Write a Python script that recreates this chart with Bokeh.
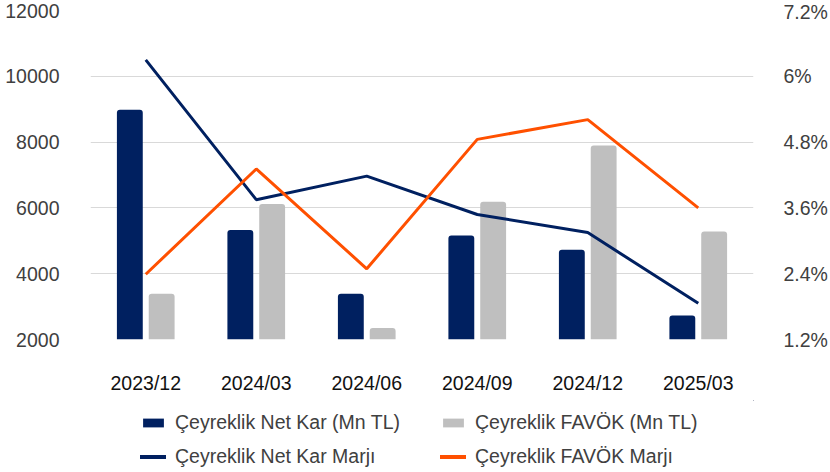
from bokeh.plotting import figure
from bokeh.models import (Range1d, LinearAxis, FixedTicker, Legend, LegendItem,
                          FactorRange, ColumnDataSource, CustomJSTickFormatter)
from bokeh.transform import dodge
from bokeh.layouts import column
from bokeh.embed import file_html
from bokeh.resources import INLINE

quarters = ["2023/12", "2024/03", "2024/06", "2024/09", "2024/12", "2025/03"]
net_kar = [8980, 5330, 3390, 5160, 4730, 2730]
favok = [3390, 6120, 2350, 6190, 7900, 5280]
net_marj = [6.30, 3.75, 4.18, 3.48, 3.15, 1.86]
favok_marj = [2.39, 4.31, 2.49, 4.85, 5.21, 3.60]
left_ticks = [2000, 4000, 6000, 8000, 10000, 12000]
right_ticks = [1.2, 2.4, 3.6, 4.8, 6.0, 7.2]
series_names = ["Çeyreklik Net Kar (Mn TL)", "Çeyreklik FAVÖK (Mn TL)",
                "Çeyreklik Net Kar Marjı", "Çeyreklik FAVÖK Marjı"]

NAVY = "#002060"
GRAY = "#BFBFBF"
ORANGE = "#FF5000"
FONT = "Liberation Sans"
FS = "19.5px"

src = ColumnDataSource(dict(q=quarters, net=net_kar, fav=favok,
                            nm=net_marj, fm=favok_marj))

xr = FactorRange(factors=quarters, range_padding=0)
p = figure(x_range=xr, y_range=Range1d(2000, 12000),
           width=830, height=400, output_backend="svg", toolbar_location=None,
           min_border_left=90, min_border_right=74, min_border_top=10,
           min_border_bottom=61)
p.outline_line_color = None
p.xgrid.grid_line_color = None
p.ygrid.grid_line_color = "#D9D9D9"
p.ygrid.grid_line_width = 1

p.extra_y_ranges = {"pct": Range1d(1.2, 7.2)}

r1 = p.vbar(x=dodge("q", -0.144, range=xr), top="net", bottom=2000,
            width=0.234, source=src, fill_color=NAVY, line_color=None,
            border_radius=(3, 3, 0, 0))
r2 = p.vbar(x=dodge("q", 0.144, range=xr), top="fav", bottom=2000,
            width=0.234, source=src, fill_color=GRAY, line_color=None,
            border_radius=(3, 3, 0, 0))
l1 = p.line(x="q", y="nm", source=src, y_range_name="pct", line_color=NAVY,
            line_width=3)
l2 = p.line(x="q", y="fm", source=src, y_range_name="pct", line_color=ORANGE,
            line_width=3)


def style_axis(ax, standoff, color):
    ax.axis_line_color = None
    ax.major_tick_line_color = None
    ax.minor_tick_line_color = None
    ax.major_tick_out = 0
    ax.major_tick_in = 0
    ax.minor_tick_out = 0
    ax.minor_tick_in = 0
    ax.major_label_standoff = standoff
    ax.major_label_text_font = FONT
    ax.major_label_text_font_size = FS
    ax.major_label_text_color = color


ya = p.yaxis[0]
ya.ticker = FixedTicker(ticks=left_ticks)
style_axis(ya, 31, "#404040")

ra = LinearAxis(y_range_name="pct", ticker=FixedTicker(ticks=right_ticks),
                formatter=CustomJSTickFormatter(
                    code="var s = tick.toFixed(1); if (s.endsWith('.0')) s = s.slice(0, -2); return s + '%';"))
style_axis(ra, 30, "#404040")
p.add_layout(ra, "right")

style_axis(p.xaxis[0], 32, "#111111")

# legend strip below the chart (its proxies draw the same data, shifted out of view)
lg = figure(width=830, height=72, output_backend="svg", toolbar_location=None,
            x_range=xr, y_range=Range1d(-2, -1),
            min_border_left=90, min_border_right=74, min_border_top=0,
            min_border_bottom=0)
lg.axis.visible = False
lg.grid.visible = False
lg.outline_line_color = None
OFF = 50
d1 = lg.vbar(x=dodge("q", OFF, range=xr), top="net", bottom=2000,
             width=0.234, source=src, fill_color=NAVY, line_color=None)
d2 = lg.vbar(x=dodge("q", OFF, range=xr), top="fav", bottom=2000,
             width=0.234, source=src, fill_color=GRAY, line_color=None)
d3 = lg.line(x=dodge("q", OFF, range=xr), y="nm", source=src, line_color=NAVY,
             line_width=4, line_cap="round")
d4 = lg.line(x=dodge("q", OFF, range=xr), y="fm", source=src, line_color=ORANGE,
             line_width=4, line_cap="round")


def make_legend(items, loc):
    leg = Legend(items=items, location=loc, orientation="vertical")
    leg.label_text_font = FONT
    leg.label_text_font_size = FS
    leg.label_text_color = "#404040"
    leg.glyph_width = 26
    leg.glyph_height = 11
    leg.label_height = 22
    leg.label_standoff = 9
    leg.spacing = 11
    leg.padding = 0
    leg.margin = 0
    leg.border_line_color = None
    leg.background_fill_alpha = 0
    return leg


leg1 = make_legend([LegendItem(label=series_names[0], renderers=[d1]),
                    LegendItem(label=series_names[2], renderers=[d3])], (50, 4))
leg2 = make_legend([LegendItem(label=series_names[1], renderers=[d2]),
                    LegendItem(label=series_names[3], renderers=[d4])], (350, 4))
lg.add_layout(leg1, "center")
lg.add_layout(leg2, "center")

layout = column(p, lg, spacing=0)
open("out.html", "w").write(file_html(layout, INLINE))
